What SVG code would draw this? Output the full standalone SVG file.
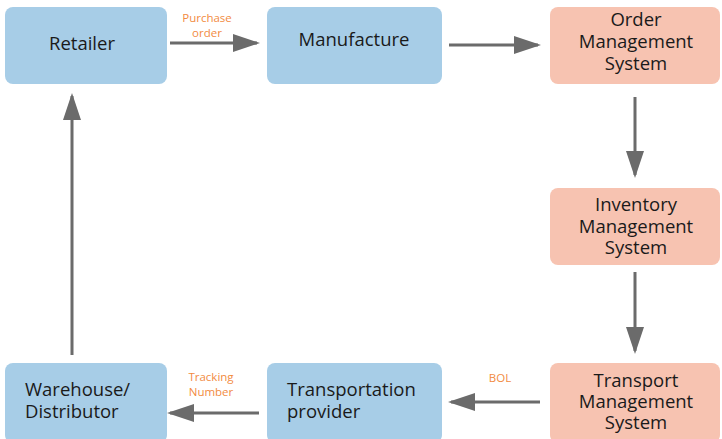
<svg xmlns="http://www.w3.org/2000/svg" width="722" height="439" viewBox="0 0 722 439">
  <style>
    .blue { fill: #a7cde7; }
    .pink { fill: #f7c3b1; }
    .t { font-family: "Open Sans", "Noto Sans", sans-serif; font-size: 18.5px; fill: #1a1a1a; }
    .c { text-anchor: middle; }
    .lbl { font-family: "Open Sans", "Noto Sans", sans-serif; font-size: 11.5px; fill: #f28b3f; text-anchor: middle; }
    .edge { stroke: #6b6b6b; stroke-width: 3; fill: none; marker-end: url(#head); }
  </style>
  <defs>
    <marker id="head" markerWidth="9" markerHeight="6" refX="8" refY="3" orient="auto" markerUnits="strokeWidth">
      <path d="M0,0 L9,3 L0,6 Z" fill="#6b6b6b"/>
    </marker>
  </defs>
  <rect width="722" height="439" fill="#ffffff"/>

  <g id="retailer">
    <rect class="blue" x="5" y="7" width="162" height="77" rx="8"/>
    <text class="t c" x="82" y="50">Retailer</text>
  </g>
  <g id="manufacture">
    <rect class="blue" x="267" y="7" width="175" height="77" rx="8"/>
    <text class="t c" x="354" y="46">Manufacture</text>
  </g>
  <g id="order-management">
    <rect class="pink" x="550" y="7" width="170" height="77" rx="8"/>
    <text class="t c" x="636" y="26">Order</text>
    <text class="t c" x="636" y="48">Management</text>
    <text class="t c" x="636" y="70">System</text>
  </g>
  <g id="inventory-management">
    <rect class="pink" x="550" y="188" width="170" height="77" rx="8"/>
    <text class="t c" x="636" y="211">Inventory</text>
    <text class="t c" x="636" y="233">Management</text>
    <text class="t c" x="636" y="254">System</text>
  </g>
  <g id="transport-management">
    <rect class="pink" x="550" y="363" width="170" height="80" rx="8"/>
    <text class="t c" x="636" y="387">Transport</text>
    <text class="t c" x="636" y="408">Management</text>
    <text class="t c" x="636" y="429">System</text>
  </g>
  <g id="transportation-provider">
    <rect class="blue" x="267" y="363" width="175" height="80" rx="8"/>
    <text class="t" x="287" y="396">Transportation</text>
    <text class="t" x="287" y="418">provider</text>
  </g>
  <g id="warehouse">
    <rect class="blue" x="5" y="363" width="162" height="80" rx="8"/>
    <text class="t" x="25" y="396">Warehouse/</text>
    <text class="t" x="25" y="418">Distributor</text>
  </g>

  <g id="connectors">
    <line class="edge" x1="170" y1="43" x2="257" y2="43"/>
    <line class="edge" x1="449" y1="45" x2="538" y2="45"/>
    <line class="edge" x1="635" y1="97" x2="635" y2="175"/>
    <line class="edge" x1="635" y1="272" x2="635" y2="351"/>
    <line class="edge" x1="540" y1="402" x2="451" y2="402"/>
    <line class="edge" x1="259" y1="413" x2="170" y2="413"/>
    <line class="edge" x1="72" y1="355" x2="72" y2="96"/>
    <text class="lbl" x="207" y="22">Purchase</text>
    <text class="lbl" x="207" y="37">order</text>
    <text class="lbl" x="211" y="381">Tracking</text>
    <text class="lbl" x="211" y="396">Number</text>
    <text class="lbl" x="500" y="382">BOL</text>
  </g>
</svg>
